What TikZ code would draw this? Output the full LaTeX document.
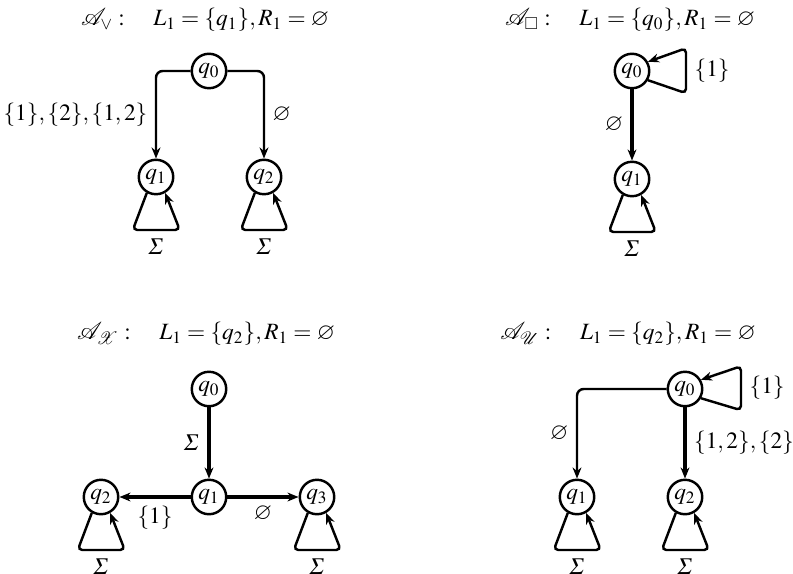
\documentclass[tikz,border=0pt]{standalone}
\usepackage{mathptmx}
\usepackage{amssymb}
\usepackage{mathrsfs}
\usepackage{tikz}
\usetikzlibrary{positioning, arrows.meta}
\DeclareMathSymbol{\slSigma}{\mathalpha}{letters}{"06}

\begin{document}
\begin{tikzpicture}[x=0.45pt, y=-0.45pt,
  node distance=32pt,
  every node/.style={font=\fontsize{10.5}{12.6}\selectfont},
  state/.style={draw, circle, line width=1.1pt, minimum size=15.5pt, inner sep=0pt},
  arrow/.style={-{Stealth[length=5pt, width=4pt]}, line width=1.1pt},
  heavy/.style={arrow, line width=1.5pt},
  selfloop/.style={arrow, rounded corners=2pt},
  lbl/.style={draw=none}]

  \useasboundingbox (0,0) rectangle (793,574);

  \node (t1) at (205,20) {$\mathscr{A}_{\vee}:\quad L_1=\{q_1\},R_1=\varnothing$};
  \node[state] (a0) at (209,71) {$q_0$};
  \node[state] (a1) at (156,177) {$q_1$};
  \node[state, right=of a1] (a2) {$q_2$};

  \draw[arrow, rounded corners=3pt] (a0.west) -| node[lbl, left, pos=0.75]{$\{1\},\{2\},\{1,2\}$} (a1);
  \draw[arrow, rounded corners=3pt] (a0.east) -| node[lbl, right, pos=0.75]{$\varnothing$} (a2);
  \draw[selfloop] (a1.240) -- ++(-14,37) -- node[lbl, below]{$\slSigma$} ++(47,0) -- (a1.300);
  \draw[selfloop] (a2.240) -- ++(-14,37) -- node[lbl, below]{$\slSigma$} ++(47,0) -- (a2.300);

  \node (t2) at (630,20) {$\mathscr{A}_{\Box}:\quad L_1=\{q_0\},R_1=\varnothing$};
  \node[state] (b0) at (632,71) {$q_0$};
  \node[state, below=of b0] (b1) {$q_1$};

  \draw[heavy] (b0) -- node[lbl, left]{$\varnothing$} (b1);
  \draw[selfloop] (b0.-30) -- ++(38,13) -- node[lbl, right]{$\{1\}$} ++(0,-45) -- (b0.30);
  \draw[selfloop] (b1.240) -- ++(-14,37) -- node[lbl, below]{$\slSigma$} ++(47,0) -- (b1.300);

  \node (t3) at (206,334) {$\mathscr{A}_{\mathscr{X}}:\quad L_1=\{q_2\},R_1=\varnothing$};
  \node[state] (c0) at (209,389) {$q_0$};
  \node[state, below=of c0] (c1) {$q_1$};
  \node[state, left=of c1] (c2) {$q_2$};
  \node[state, right=of c1] (c3) {$q_3$};

  \draw[heavy] (c0) -- node[lbl, left]{$\slSigma$} (c1);
  \draw[heavy] (c1) -- node[lbl, below]{$\{1\}$} (c2);
  \draw[heavy] (c1) -- node[lbl, below]{$\varnothing$} (c3);
  \draw[selfloop] (c2.240) -- ++(-14,37) -- node[lbl, below]{$\slSigma$} ++(47,0) -- (c2.300);
  \draw[selfloop] (c3.240) -- ++(-14,37) -- node[lbl, below]{$\slSigma$} ++(47,0) -- (c3.300);

  \node (t4) at (628,334) {$\mathscr{A}_{\mathscr{U}}:\quad L_1=\{q_2\},R_1=\varnothing$};
  \node[state] (d0) at (685,389) {$q_0$};
  \node[state, below=of d0] (d2) {$q_2$};
  \node[state, left=of d2] (d1) {$q_1$};

  \draw[arrow, rounded corners=3pt] (d0.west) -| node[lbl, left, pos=0.75]{$\varnothing$} (d1);
  \draw[heavy] (d0) -- node[lbl, right]{$\{1,2\},\{2\}$} (d2);
  \draw[selfloop] (d0.-30) -- ++(40,12) -- node[lbl, right]{$\{1\}$} ++(0,-44) -- (d0.30);
  \draw[selfloop] (d1.240) -- ++(-14,37) -- node[lbl, below]{$\slSigma$} ++(47,0) -- (d1.300);
  \draw[selfloop] (d2.240) -- ++(-14,37) -- node[lbl, below]{$\slSigma$} ++(47,0) -- (d2.300);
\end{tikzpicture}
\end{document}
